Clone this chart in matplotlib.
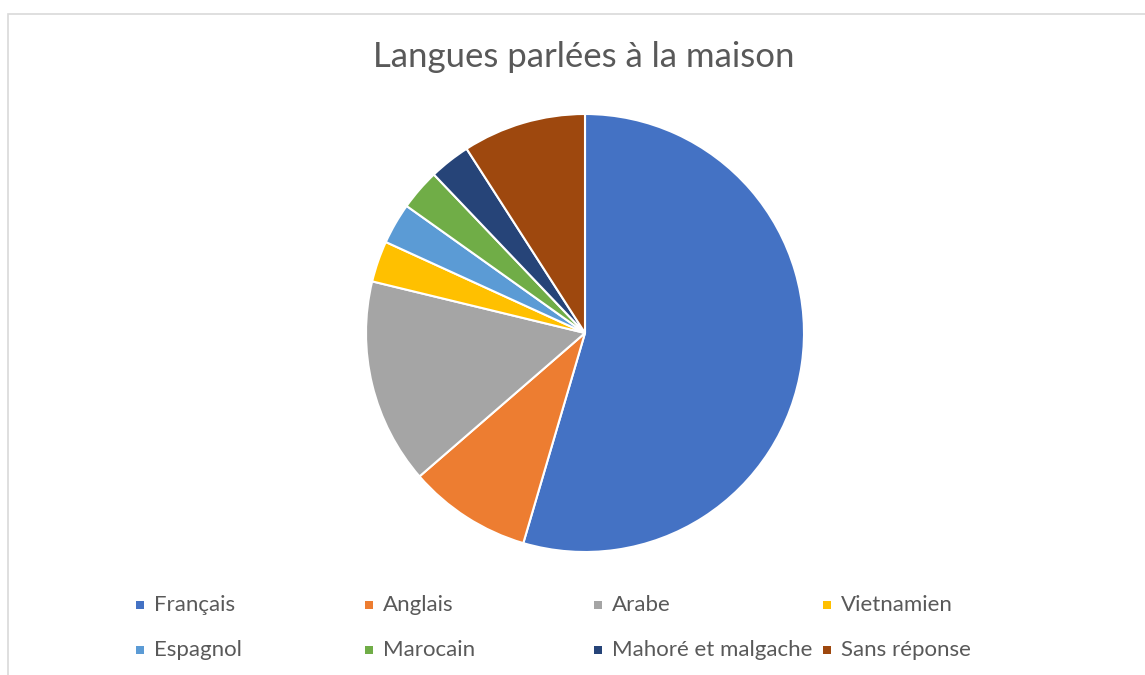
import matplotlib.pyplot as plt
import matplotlib.patches as mpatches

plt.rcParams.update({'font.family': ['Lato', 'DejaVu Sans']})

langues = ['Français', 'Anglais', 'Arabe', 'Vietnamien',
           'Espagnol', 'Marocain', 'Mahoré et malgache', 'Sans réponse']
effectifs = [18, 3, 5, 1, 1, 1, 1, 3]
couleurs = ['#4472C4', '#ED7D31', '#A5A5A5', '#FFC000',
            '#5B9BD5', '#70AD47', '#264478', '#9E480E']

W, H = 1145, 675
fig = plt.figure(figsize=(W / 100, H / 100), dpi=100)

# cadre du graphique (bord gris clair, coupé en bas et à droite)
fig.add_artist(mpatches.Rectangle((8 / W, -0.1), 1.2, (H - 14) / H + 0.1,
                                  transform=fig.transFigure, fill=False,
                                  edgecolor='#D9D9D9', linewidth=1.2))

cx, cy, r = 585, 333, 219
ax = fig.add_axes([(cx - r) / W, (H - cy - r) / H, 2 * r / W, 2 * r / H])
ax.pie(effectifs, colors=couleurs, startangle=90, counterclock=False,
       radius=1, wedgeprops={'edgecolor': 'white', 'linewidth': 1.5})
ax.set_xlim(-1, 1)
ax.set_ylim(-1, 1)
ax.set_aspect('equal')
ax.axis('off')

fig.text(584 / W, 1 - 57 / H, 'Langues parlées à la maison', ha='center', va='center',
         fontsize=25, color='#595959')

# légende sur 4 colonnes de largeur égale
for i, (nom, c) in enumerate(zip(langues, couleurs)):
    col, row = i % 4, i // 4
    x = 140 + 229 * col
    y = 605 + 45 * row
    fig.add_artist(mpatches.Rectangle(((x - 4) / W, 1 - (y + 4) / H), 8 / W, 8 / H,
                                      transform=fig.transFigure, facecolor=c,
                                      edgecolor='none'))
    fig.text((x + 14) / W, 1 - y / H, nom, ha='left', va='center',
             fontsize=16, color='#595959')

fig.savefig('out.png', dpi=100)
